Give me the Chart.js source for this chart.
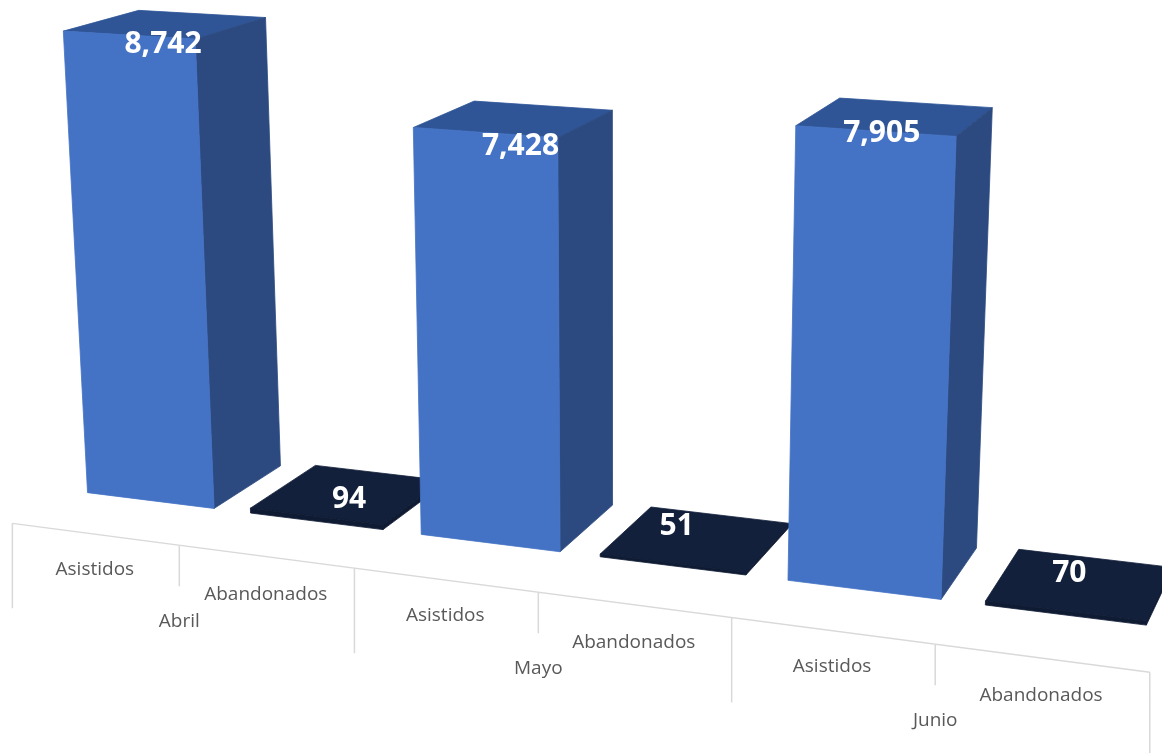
<!DOCTYPE html>
<html>
<head>
<meta charset="utf-8">
<style>
  body { margin: 0; background: #fff; }
</style>
<script src="https://cdn.jsdelivr.net/npm/chart.js@4"></script>
</head>
<body>
<canvas id="perspectiveChart" width="1162" height="753"></canvas>
<script>
const months = ['Abril', 'Mayo', 'Junio'];
const seriesNames = ['Asistidos', 'Abandonados'];
const asistidos = [8742, 7428, 7905];
const abandonados = [94, 51, 70];

// camera fitted to the picture: (u, v, depth) -> screen, u and v are 0..1 over the chart area
const cam = [941.80, -30.82, 78.58, 70.07, 52.90, -528.18, -19.28, 490.44, -0.13484, -0.04999, 0.04820];
const axisDepth = -0.74;

function project(u, v, z) {
    const d = cam[8] * u + cam[9] * v + cam[10] * z + 1;
    return [
        (cam[0] * u + cam[1] * v + cam[2] * z + cam[3]) / d,
        (cam[4] * u + cam[5] * v + cam[6] * z + cam[7]) / d
    ];
}

function fillFace(ctx, pts, color) {
    ctx.beginPath();
    pts.forEach((p, i) => i ? ctx.lineTo(p[0], p[1]) : ctx.moveTo(p[0], p[1]));
    ctx.closePath();
    ctx.fillStyle = color;
    ctx.strokeStyle = color; // hides the seams between faces
    ctx.lineWidth = 0.8;
    ctx.fill();
    ctx.stroke();
}

const faces = [
    { front: '#4472c4', side: '#2c4a80', top: '#2f5597' },
    { front: '#0f1b33', side: '#0f1b33', top: '#13203b' }
];
// label shift from the middle of the bar top, by dataset then month
const labelShift = [
    [[-3, 20], [6, 28], [-14, 17]],
    [[1, 5], [-20, -12], [-11, -10]]
];

const perspectiveBars = {
    id: 'perspectiveBars',
    afterDatasetsDraw(chart) {
        const ctx = chart.ctx;
        const area = chart.chartArea;
        const xs = chart.scales.x;
        const toU = px => (px - area.left) / area.width;
        const toV = py => (area.bottom - py) / area.height;

        // category axis lying on the floor
        ctx.save();
        ctx.strokeStyle = '#d9d9d9';
        ctx.lineWidth = 1.5;
        ctx.beginPath();
        ctx.moveTo(...project(0, 0, axisDepth));
        ctx.lineTo(...project(1, 0, axisDepth));
        for (let k = 0; k <= 6; k++) {
            const p = project(k / 6, 0, axisDepth);
            ctx.moveTo(p[0], p[1]);
            ctx.lineTo(p[0], p[1] + (k % 2 ? 41 : 85));
        }
        ctx.stroke();

        // bars, left to right so the nearer ones cover the others
        const bars = [];
        chart.data.datasets.forEach((ds, d) => {
            chart.getDatasetMeta(d).data.forEach((el, i) => bars.push({ el, d, i }));
        });
        bars.sort((a, b) => a.el.x - b.el.x);

        bars.forEach(({ el, d }) => {
            const u0 = toU(el.x - el.width / 2);
            const u1 = toU(el.x + el.width / 2);
            const v = toV(el.y);
            const f = faces[d];
            fillFace(ctx, [project(u0, v, 0), project(u1, v, 0), project(u1, v, 1), project(u0, v, 1)], f.top);
            fillFace(ctx, [project(u1, 0, 0), project(u1, 0, 1), project(u1, v, 1), project(u1, v, 0)], f.side);
            fillFace(ctx, [project(u0, 0, 0), project(u1, 0, 0), project(u1, v, 0), project(u0, v, 0)], f.front);
        });

        // value labels
        ctx.textAlign = 'center';
        ctx.textBaseline = 'middle';
        ctx.fillStyle = '#fff';
        ctx.font = 'bold 30px "Open Sans"';
        bars.forEach(({ el, d, i }) => {
            const p = project(toU(el.x), toV(el.y), 0.5);
            const s = labelShift[d][i];
            ctx.fillText(chart.data.datasets[d].data[i].toLocaleString('en-US'), p[0] + s[0], p[1] + s[1]);
        });

        // axis texts
        ctx.fillStyle = '#595959';
        ctx.font = '19px "Open Sans"';
        bars.forEach(({ el, d }) => {
            const p = project(toU(el.x), 0, axisDepth);
            ctx.fillText(seriesNames[d], p[0], p[1] + (d ? 38 : 35.5));
        });
        months.forEach((m, i) => {
            const p = project(toU(xs.getPixelForTick(i)), 0, axisDepth);
            ctx.fillText(m, p[0], p[1] + 76);
        });
        ctx.restore();
    }
};

new Chart(document.getElementById('perspectiveChart').getContext('2d'), {
    type: 'bar',
    data: {
        labels: months,
        datasets: [
            { label: seriesNames[0], data: asistidos, backgroundColor: 'transparent' },
            { label: seriesNames[1], data: abandonados, backgroundColor: 'transparent' }
        ]
    },
    options: {
        responsive: false,
        animation: false,
        categoryPercentage: 1,
        barPercentage: 0.78,
        layout: { padding: 0 },
        plugins: { legend: { display: false }, tooltip: { enabled: false } },
        scales: {
            x: { display: false },
            y: { display: false, min: 0, max: 10000 }
        }
    },
    plugins: [perspectiveBars]
});
</script>
</body>
</html>
